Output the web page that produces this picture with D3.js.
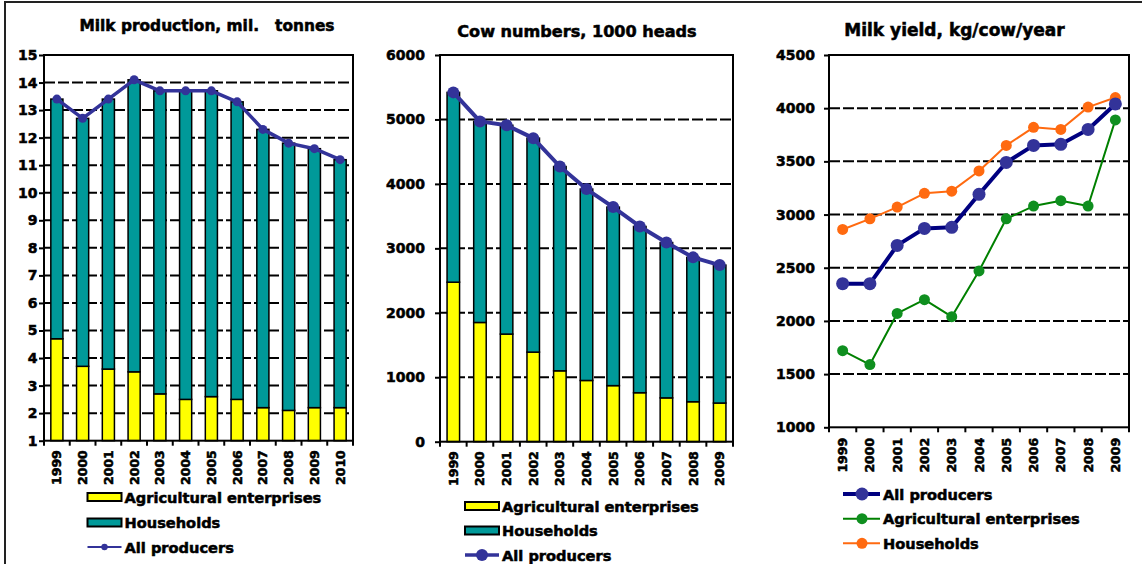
<!DOCTYPE html>
<html>
<head>
<meta charset="utf-8">
<script src="https://cdn.jsdelivr.net/npm/d3@7/dist/d3.min.js"></script>
<style>
  html, body { margin: 0; padding: 0; background: #fff; }
  svg { display: block; }
  text { font-family: "DejaVu Sans", "Liberation Sans", Arial, sans-serif; font-weight: bold; fill: #000;
         stroke: #000; stroke-width: 0.55px; }
</style>
</head>
<body>
<svg id="chart" width="1142" height="564"></svg>
<script>
// ---- Data ----
const yearsProd = ["1999","2000","2001","2002","2003","2004","2005","2006","2007","2008","2009","2010"];
const prodAll   = [13.4, 12.7, 13.4, 14.1, 13.7, 13.7, 13.7, 13.3, 12.3, 11.8, 11.6, 11.2];
const prodAgri  = [4.7, 3.7, 3.6, 3.5, 2.7, 2.5, 2.6, 2.5, 2.2, 2.1, 2.2, 2.2];

const yearsCows = ["1999","2000","2001","2002","2003","2004","2005","2006","2007","2008","2009"];
const cowsAll   = [5420, 4970, 4910, 4710, 4270, 3920, 3640, 3340, 3090, 2860, 2740];
const cowsAgri  = [2475, 1850, 1670, 1390, 1100, 950, 870, 760, 680, 620, 600];

const yearsYield = ["1999","2000","2001","2002","2003","2004","2005","2006","2007","2008","2009"];
const yieldAll   = [2350, 2350, 2710, 2870, 2880, 3190, 3490, 3650, 3660, 3800, 4040];
const yieldAgri  = [1720, 1590, 2070, 2200, 2040, 2470, 2960, 3080, 3130, 3080, 3890];
const yieldHouse = [2860, 2960, 3070, 3200, 3220, 3410, 3650, 3820, 3800, 4010, 4100];

const prodTicks  = d3.range(1, 16, 1);
const cowTicks   = d3.range(0, 6001, 1000);
const yieldTicks = d3.range(1000, 4501, 500);

const titles = ["Milk production, mil.   tonnes", "Cow numbers, 1000 heads", "Milk yield, kg/cow/year"];
const barLegend = ["Agricultural enterprises", "Households", "All producers"];
const yieldLegend = ["All producers", "Agricultural enterprises", "Households"];

// ---- Styles ----
const TEAL = "#009999", YELLOW = "#ffff00", INDIGO = "#333399", NAVY = "#000080",
      GREEN = "#008000", ORANGE = "#ff6a10";

const svg = d3.select("#chart");

// outer frame (top and left edges)
svg.append("path").attr("d", "M5,564 V2 H1142").attr("fill", "none")
  .attr("stroke", "#222").attr("stroke-width", 2);

function frame(g, x0, x1, y0, y1, yScale, ticks, fmt, pad) {
  // dashed horizontal gridlines
  g.selectAll(".grid").data(ticks.slice(1, -1)).join("line")
    .attr("x1", x0).attr("x2", x1)
    .attr("y1", d => yScale(d)).attr("y2", d => yScale(d))
    .attr("stroke", "#000").attr("stroke-width", 2).attr("stroke-dasharray", "11,3");
  // y axis
  const ax = d3.axisLeft(yScale).tickValues(ticks).tickSize(5).tickPadding(pad).tickFormat(fmt);
  const ga = g.append("g").attr("transform", `translate(${x0},0)`).call(ax);
  ga.select(".domain").remove();
  ga.selectAll("line").attr("stroke", "#000").attr("stroke-width", 2);
  ga.selectAll("text").attr("font-size", 14).attr("fill", "#000")
    .style("font-family", "DejaVu Sans").style("font-weight", "bold");
}

function plotBorder(g, x0, x1, y0, y1) {
  g.append("rect").attr("x", x0).attr("y", y0).attr("width", x1 - x0).attr("height", y1 - y0)
    .attr("fill", "none").attr("stroke", "#000").attr("stroke-width", 2);
}

function xAxis(g, xBand, y1, years, labelOffset) {
  const step = xBand.step();
  const edges = d3.range(years.length + 1).map(i => xBand.range()[0] + i * step);
  g.selectAll(".xt").data(edges).join("line")
    .attr("x1", d => d).attr("x2", d => d).attr("y1", y1).attr("y2", y1 + 5)
    .attr("stroke", "#000").attr("stroke-width", 2);
  g.selectAll(".yl").data(years).join("text")
    .attr("transform", d => `translate(${xBand(d) + xBand.bandwidth() / 2},${y1 + labelOffset}) rotate(-90)`)
    .attr("text-anchor", "end").attr("dy", "0.36em").attr("font-size", 12.5).text(d => d);
}

function title(x, y, t, size) {
  svg.append("text").attr("x", x).attr("y", y).attr("text-anchor", "middle")
    .attr("font-size", size).attr("xml:space", "preserve").style("white-space", "pre").text(t);
}

// ---- Stacked bar panel ----
function barPanel(cfg) {
  const { years, all, agri, x0, x1, y0, y1, domain, ticks, pad, lineW, markR, legendX, legendY, legendLineW, legendR } = cfg;
  const g = svg.append("g");
  const x = d3.scaleBand().domain(years).range([x0, x1]).paddingInner(0.53).paddingOuter(0.265);
  const y = d3.scaleLinear().domain(domain).range([y1, y0]);
  frame(g, x0, x1, y0, y1, y, ticks, d3.format("d"), pad);

  const rows = years.map((yr, i) => ({ year: yr, agri: agri[i], house: all[i] - agri[i] }));
  const stack = d3.stack().keys(["agri", "house"])(rows);
  const colors = { agri: YELLOW, house: TEAL };
  stack.forEach(layer => {
    g.append("g").selectAll("rect").data(layer).join("rect")
      .attr("x", d => x(d.data.year)).attr("width", x.bandwidth())
      .attr("y", d => y(d[1]))
      .attr("height", d => y(Math.max(d[0], domain[0])) - y(d[1]))
      .attr("fill", colors[layer.key]).attr("stroke", "#000").attr("stroke-width", 1.5);
  });

  const cx = d => x(d) + x.bandwidth() / 2;
  const pts = years.map((yr, i) => [cx(yr), y(all[i])]);
  g.append("path").attr("d", d3.line()(pts)).attr("fill", "none")
    .attr("stroke", INDIGO).attr("stroke-width", lineW).attr("stroke-linejoin", "round");
  g.selectAll(".pt").data(pts).join("circle")
    .attr("cx", d => d[0]).attr("cy", d => d[1]).attr("r", markR).attr("fill", INDIGO);

  plotBorder(g, x0, x1, y0, y1);
  xAxis(g, x, y1, years, 9.5);

  // legend
  const lg = svg.append("g");
  const sw = 34;
  [0, 1].forEach(i => {
    lg.append("rect").attr("x", legendX).attr("y", legendY[i] - 4).attr("width", sw).attr("height", 8)
      .attr("fill", i === 0 ? YELLOW : TEAL).attr("stroke", "#000").attr("stroke-width", 2);
  });
  lg.append("line").attr("x1", legendX).attr("x2", legendX + sw).attr("y1", legendY[2]).attr("y2", legendY[2])
    .attr("stroke", INDIGO).attr("stroke-width", legendLineW);
  lg.append("circle").attr("cx", legendX + sw / 2).attr("cy", legendY[2]).attr("r", legendR).attr("fill", INDIGO);
  barLegend.forEach((t, i) => {
    lg.append("text").attr("x", legendX + sw + 3).attr("y", legendY[i] + 5.5).attr("font-size", 14.6).text(t);
  });
}

barPanel({
  years: yearsProd, all: prodAll, agri: prodAgri,
  x0: 44, x1: 353, y0: 55, y1: 440.7, domain: [1, 15], ticks: prodTicks, pad: 1.5,
  lineW: 3.5, markR: 4.5, legendX: 87.5, legendY: [497, 522.5, 547], legendLineW: 2, legendR: 3.2
});
barPanel({
  years: yearsCows, all: cowsAll, agri: cowsAgri,
  x0: 440, x1: 733, y0: 55, y1: 441.7, domain: [0, 6000], ticks: cowTicks, pad: 10,
  lineW: 4, markR: 6, legendX: 465, legendY: [506, 530.5, 555], legendLineW: 3.5, legendR: 6
});

// ---- Yield line panel ----
(function () {
  const x0 = 829, x1 = 1129, y0 = 55, y1 = 427.3;
  const g = svg.append("g");
  const x = d3.scaleBand().domain(yearsYield).range([x0, x1]);
  const y = d3.scaleLinear().domain([1000, 4500]).range([y1, y0]);
  frame(g, x0, x1, y0, y1, y, yieldTicks, d3.format("d"), 9);
  const cx = d => x(d) + x.bandwidth() / 2;
  const series = [
    { vals: yieldHouse, line: ORANGE, mark: ORANGE, w: 2, r: 5.5 },
    { vals: yieldAgri,  line: GREEN,  mark: "#0f8f1f", w: 2, r: 5.5 },
    { vals: yieldAll,   line: NAVY,   mark: INDIGO, w: 4, r: 6.5 }
  ];
  series.forEach(s => {
    const pts = yearsYield.map((yr, i) => [cx(yr), y(s.vals[i])]);
    g.append("path").attr("d", d3.line()(pts)).attr("fill", "none")
      .attr("stroke", s.line).attr("stroke-width", s.w).attr("stroke-linejoin", "round");
    g.append("g").selectAll("circle").data(pts).join("circle")
      .attr("cx", d => d[0]).attr("cy", d => d[1]).attr("r", s.r).attr("fill", s.mark);
  });
  plotBorder(g, x0, x1, y0, y1);
  xAxis(g, x, y1, yearsYield, 10.5);

  const lg = svg.append("g");
  const lx = 843, sw = 37, ly = [494, 518.7, 543.3];
  const leg = [series[2], series[1], series[0]];
  leg.forEach((s, i) => {
    lg.append("line").attr("x1", lx).attr("x2", lx + sw).attr("y1", ly[i]).attr("y2", ly[i])
      .attr("stroke", s.line).attr("stroke-width", s.w);
    lg.append("circle").attr("cx", lx + 19).attr("cy", ly[i]).attr("r", s.r).attr("fill", s.mark);
    lg.append("text").attr("x", lx + sw + 3).attr("y", ly[i] + 5.5).attr("font-size", 14.6).text(yieldLegend[i]);
  });
})();

title(207, 30.5, titles[0], 15.4);
title(577, 37, titles[1], 16.1);
title(954.5, 36, titles[2], 17);
</script>
</body>
</html>
